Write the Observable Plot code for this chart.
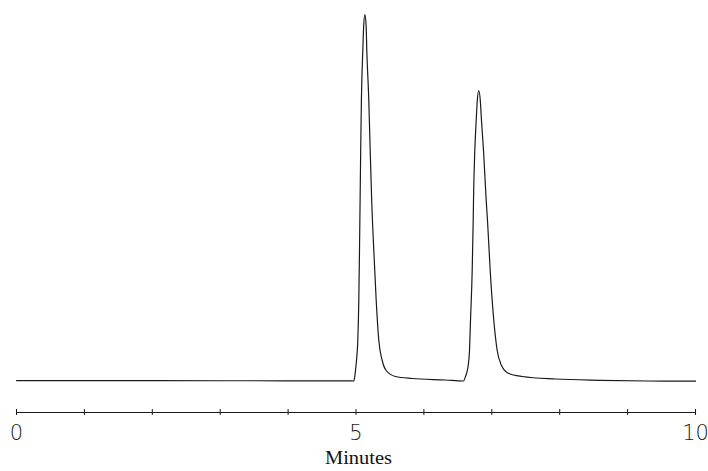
<!DOCTYPE html>
<html><head><meta charset="utf-8">
<script src="https://cdn.jsdelivr.net/npm/d3@7"></script>
<script src="https://cdn.jsdelivr.net/npm/@observablehq/plot@0.6"></script>
<style>body{margin:0;background:#fff;} #chart svg{display:block;}</style>
</head><body><div id="chart"></div>
<script>
// Retention time (minutes) and detector signal (arbitrary units)
const time = [
  0, 2, 4, 4.9, 4.9676, 4.982, 4.9926, 5.0074, 5.0265, 5.0412, 5.0515, 5.0604, 5.0692, 5.0795, 5.1001, 5.1134, 5.1311,
  5.1488, 5.1591, 5.1885, 5.2091, 5.2312, 5.2622, 5.2975, 5.3358, 5.3859, 5.4448, 5.5817, 5.8277, 6.3181, 6.5832,
  6.6127, 6.6274, 6.6524, 6.6716, 6.6863, 6.7113, 6.7261, 6.7305, 6.7496, 6.7703, 6.7864, 6.8085,
  6.8306, 6.8483, 6.8778, 6.9175, 6.9367, 6.9764, 7.0295, 7.0795, 7.1429, 7.2504, 7.4477, 7.9382, 8.6009, 9.3, 10
];
const signal = [
  0.6, 0.5, 0.4, 0.3, 0.2, 4.7, 10.7, 20.7, 40.7, 80.7, 130.7, 180.7, 230.7, 280.7, 330.7, 355.7, 366.7,
  355.7, 330.7, 280.7, 230.7, 180.7, 130.7, 80.7, 40.7, 20.7, 10.7, 4.7, 2.7, 1.2, 0.2,
  4.7, 7.7, 15.7, 30.7, 60.7, 110.7, 160.7, 180.7, 230.7, 260.7, 280.7, 290.7,
  280.7, 260.7, 230.7, 180.7, 160.7, 110.7, 60.7, 30.7, 15.7, 7.7, 4.7, 2.2, 0.9, 0.2, 0
];
const tickValues = [0, 1, 2, 3, 4, 5, 6, 7, 8, 9, 10];
const labeledTicks = [0, 5, 10];
const axisTitle = "Minutes";

const data = time.map((t, i) => ({t, s: signal[i]}));

const chart = Plot.plot({
  width: 708,
  height: 471,
  marginLeft: 16,
  marginRight: 13,
  marginTop: 0,
  marginBottom: 59,
  style: {background: "#fff", color: "#1a1a1a"},
  x: {domain: [0, 10]},
  y: {domain: [0, 380.7], range: [380.7, 0], axis: null},
  marks: [
    Plot.line(data, {x: "t", y: "s", stroke: "#1a1a1a", strokeWidth: 1.2, curve: "monotone-x"}),
    Plot.frame({anchor: "bottom", stroke: "#1a1a1a", strokeWidth: 1.2}),
    Plot.axisX({
      ticks: tickValues, tickSize: 6, dy: -3, tickPadding: 10,
      tickFormat: d => labeledTicks.includes(d) ? String(d) : "",
      fontSize: 21, fontFamily: "DejaVu Sans", fontWeight: 200, label: null
    }),
    Plot.text([axisTitle], {
      frameAnchor: "bottom", dx: 2.5, dy: 51.4,
      fontSize: 19, fontFamily: "Liberation Serif", fill: "#111"
    })
  ]
});
document.getElementById("chart").appendChild(chart);
d3.select(chart).selectAll("text")
  .filter(function() { return this.textContent === axisTitle; })
  .attr("textLength", 67).attr("lengthAdjust", "spacingAndGlyphs");
</script>
</body></html>
